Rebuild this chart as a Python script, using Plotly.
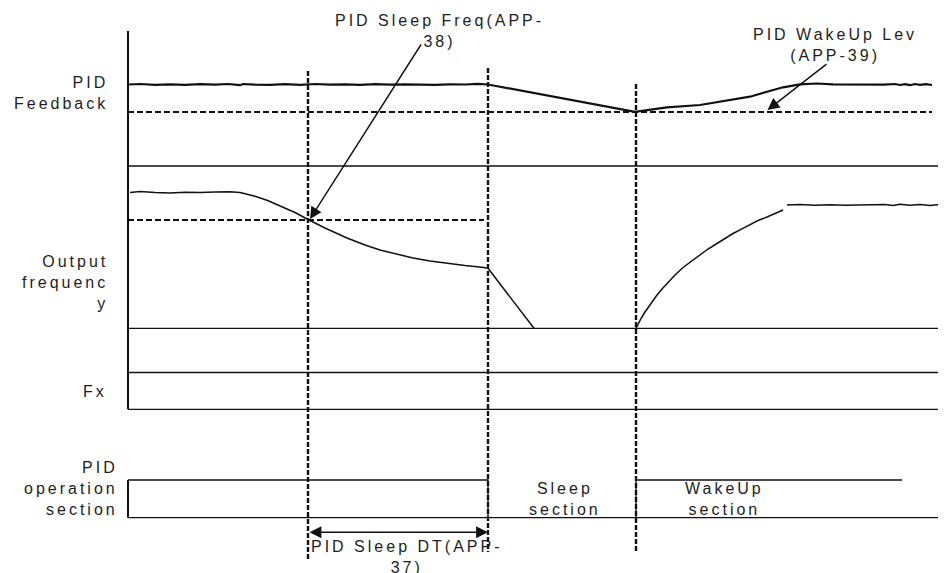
import plotly.graph_objects as go

# ---- diagram data (time axis ~ horizontal position, level ~ vertical position, y grows downward) ----
# PID feedback signal
fb_x = [128, 140, 155, 170, 185, 200, 215, 228, 240, 243, 255, 270, 285, 300, 315, 330, 345, 360,
        375, 390, 405, 420, 435, 450, 465, 478, 488, 635, 667, 700, 733, 750, 767, 783, 800, 817,
        833, 850, 867, 884, 895, 900, 905, 910, 915, 920, 926, 932]
fb_y = [84.5, 84.0, 84.8, 84.3, 84.9, 84.2, 84.7, 84.0, 85.2, 84.0, 84.6, 84.9, 84.2, 84.8, 84.0,
        84.6, 84.3, 84.8, 84.2, 84.7, 84.3, 84.6, 84.9, 84.3, 84.5, 83.9, 84.5, 111.8, 107.3, 105.0,
        100.0, 96.7, 91.7, 87.3, 84.3, 83.5, 84.3, 84.6, 84.2, 84.7, 84.0, 85.0, 84.2, 85.2, 84.0,
        84.9, 84.1, 85.0]
fb_level_y = 112
fb_level_x = [128, 932]

# Output frequency
of_x = [130, 140, 155, 170, 185, 200, 215, 230, 240, 255, 267, 280, 295, 308, 325, 347, 365, 380,
        397, 413, 430, 447, 465, 484, 488, 534]
of_y = [192.6, 191.6, 192.5, 192.9, 192.2, 192.6, 192.1, 191.8, 192.5, 196.2, 200.3, 206.0, 212.5,
        219.5, 228.0, 238.0, 245.0, 250.0, 254.5, 258.0, 261.0, 263.5, 265.5, 267.5, 268.3, 328.3]
of_rise_x = [636, 638, 641, 644, 648, 652, 657, 662, 667, 675, 683, 692, 700, 708, 717, 725, 733,
             742, 750, 758, 767, 775, 783]
of_rise_y = [328.3, 324.0, 318.5, 313.5, 307.5, 301.5, 295.0, 289.0, 283.5, 275.0, 267.5, 261.0,
             255.0, 249.0, 243.5, 238.3, 233.5, 228.8, 224.5, 220.5, 217.0, 213.4, 210.0]
of_top_x = [787, 800, 815, 830, 845, 860, 875, 885, 893, 900, 910, 920, 930, 937, 943]
of_top_y = [205.0, 204.6, 205.2, 204.8, 205.3, 204.9, 205.1, 204.5, 205.6, 204.3, 205.3, 204.6,
            205.4, 204.7, 205.6]
of_level_y = 220
of_level_x = [128, 484]
of_base_y = 328.3

# Fx band
fx_hi_y, fx_lo_y = 372.5, 409.3

# PID operation section band
op_hi_y, op_lo_y = 480.0, 517.7
op_run1_x = [128, 488]
op_run2_x = [636, 902]

# Event markers (time)
t_sleep_freq = 308
t_sleep = 488
t_wake = 636
vline_top = [71, 68, 84]
vline_bot = [559, 552, 552]

sep_y = 166
axis_x = 128
right_x = 946

BLACK = "#111111"
TXT = "#1e1e1e"
FONT = "Liberation Sans"
PAGE_MARGIN = 8  # default body margin of the html page

fig = go.Figure()

def seg(xs, ys, width=1.4, dash=None, color=BLACK, shape="linear"):
    fig.add_trace(go.Scatter(x=xs, y=ys, mode="lines", hoverinfo="skip", showlegend=False,
                             line=dict(color=color, width=width, dash=dash, shape=shape)))

# left axis
seg([axis_x, axis_x], [31, fx_lo_y], width=2)
seg([axis_x, axis_x], [op_hi_y, op_lo_y], width=2)

# separators and bands
seg([axis_x, right_x], [sep_y, sep_y], width=1.3)
seg([axis_x, right_x], [of_base_y, of_base_y], width=1.3)
seg([axis_x, right_x], [fx_hi_y, fx_hi_y], width=1.3)
seg([axis_x, right_x], [fx_lo_y, fx_lo_y], width=1.3)
seg([op_run1_x[0], op_run1_x[1], op_run1_x[1]], [op_hi_y, op_hi_y, op_lo_y], width=1.3)
seg([axis_x, right_x], [op_lo_y, op_lo_y], width=1.3)
seg([op_run2_x[0], op_run2_x[0], op_run2_x[1]], [op_lo_y, op_hi_y, op_hi_y], width=1.3)

# dashed levels
seg(fb_level_x, [fb_level_y] * 2, width=2, dash="6px,3px")
seg(of_level_x, [of_level_y] * 2, width=2, dash="6px,3px")

# vertical dashed event lines
for t, a, b in zip([t_sleep_freq, t_sleep, t_wake], vline_top, vline_bot):
    seg([t, t], [a, b], width=2.4, dash="5px,2px")

# signals
seg(fb_x, fb_y, width=2.2)
seg(of_x, of_y, width=1.5)
seg(of_rise_x, of_rise_y, width=1.5)
seg(of_top_x, of_top_y, width=1.5)

def sp(s, ls=3.0):
    return "<br>".join(f'<span style="letter-spacing:{ls}px">{line}</span>' for line in s.split("\n"))

def label(text, x, y, xanchor="center", align="center", size=16):
    fig.add_annotation(x=x, y=y, text=sp(text), showarrow=False, xanchor=xanchor, yanchor="middle",
                       align=align, font=dict(family=FONT, size=size, color=TXT))

label("PID\nFeedback", 110, 92.5, xanchor="right", align="right")
label("Output\nfrequenc\ny", 110, 282, xanchor="right", align="right")
label("Fx", 109, 391, xanchor="right", align="right")
label("PID\noperation\nsection", 120, 488, xanchor="right", align="right")
label("Sleep\nsection", 565, 499)
label("WakeUp\nsection", 724, 499)
label("PID Sleep Freq(APP-\n38)", 439, 31)
label("PID WakeUp Lev\n(APP-39)", 835, 44.5)
label("PID Sleep DT(APP-\n37)", 406, 557)

# arrows
fig.add_annotation(x=310, y=219, ax=422, ay=43, axref="x", ayref="y", xref="x", yref="y",
                   text="", showarrow=True, arrowhead=2, arrowsize=1.7, arrowwidth=1.4,
                   arrowcolor=BLACK, standoff=0, startstandoff=0)
fig.add_annotation(x=767.5, y=110, ax=828, ay=63, axref="x", ayref="y", xref="x", yref="y",
                   text="", showarrow=True, arrowhead=2, arrowsize=1.7, arrowwidth=1.4,
                   arrowcolor=BLACK, standoff=0, startstandoff=0)
fig.add_annotation(x=t_sleep, y=532.3, ax=t_sleep_freq, ay=532.3, axref="x", ayref="y",
                   xref="x", yref="y", text="", showarrow=True, arrowhead=2, arrowside="end+start",
                   arrowsize=1.7, arrowwidth=1.4, arrowcolor=BLACK, standoff=0, startstandoff=0)

W, H = 946, 573
fig.update_layout(
    width=W - PAGE_MARGIN, height=H - PAGE_MARGIN,
    margin=dict(l=0, r=0, t=0, b=0),
    paper_bgcolor="white", plot_bgcolor="white",
    xaxis=dict(range=[PAGE_MARGIN, W], visible=False, fixedrange=True),
    yaxis=dict(range=[H, PAGE_MARGIN], visible=False, fixedrange=True),
    showlegend=False,
)

fig.write_html("out.html")
